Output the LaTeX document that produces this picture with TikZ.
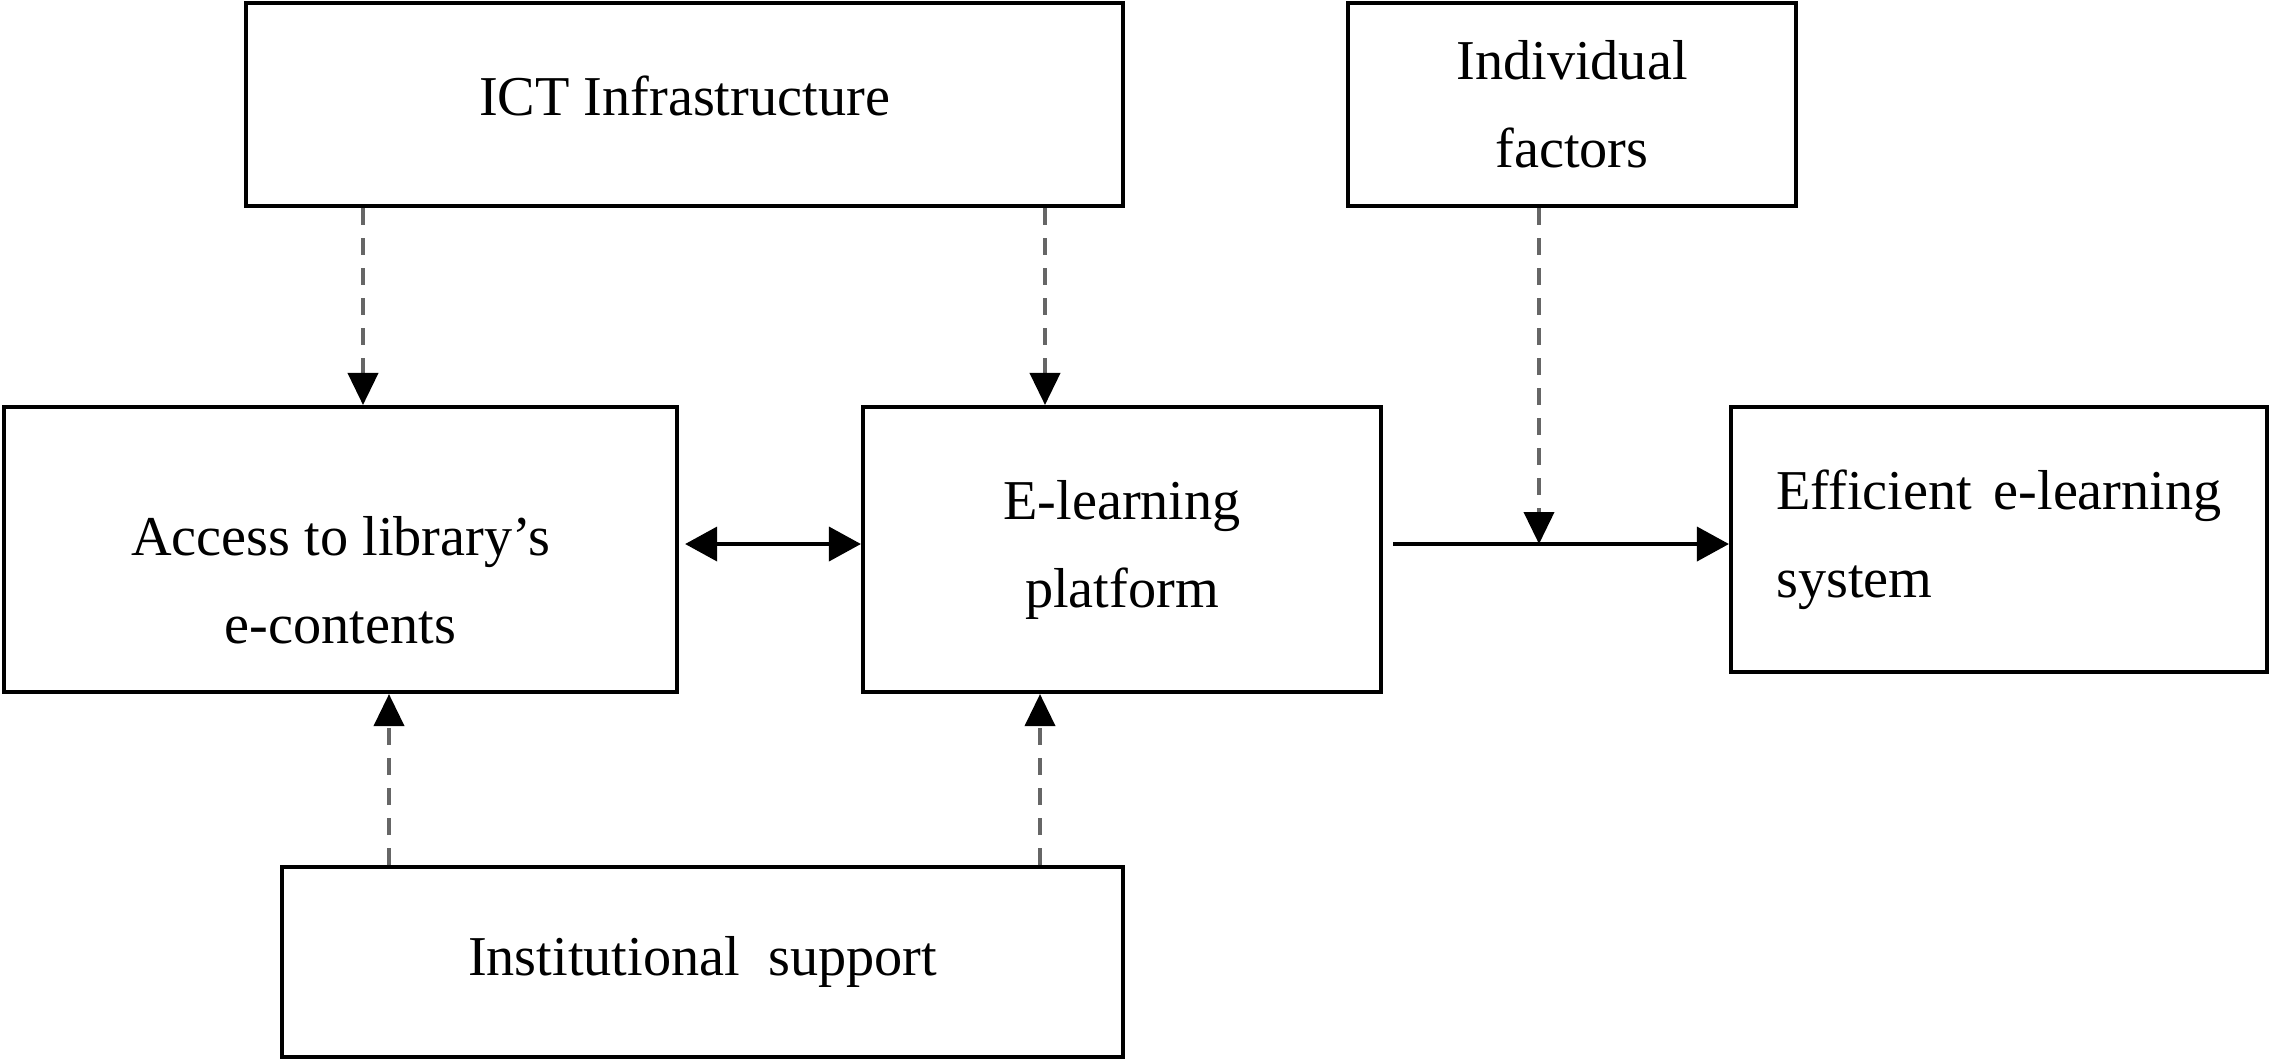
\documentclass[tikz,border=0pt]{standalone}
\usepackage{fontspec}
\setmainfont{Liberation Serif}
\usetikzlibrary{arrows.meta}

\begin{document}
\begin{tikzpicture}[x=0.01cm, y=-0.01cm,
          every node/.style={align=center, font=\fontsize{16}{25}\selectfont},
          box/.style={draw, line width=1.1pt, inner sep=0pt},
          dashlink/.style={draw=black!60, line width=1.1pt, dash pattern=on 0.17cm off 0.13cm,
                           -{Triangle[length=0.32cm, width=0.3cm, color=black]}},
          solidlink/.style={line width=1.1pt, -{Triangle[length=0.32cm, width=0.34cm]}}]
            \useasboundingbox (0,0) rectangle (2270,1059);
            % Top row
            \node[box, minimum width=8.77cm, minimum height=2.03cm] (ict) at (684.5,104.5) {\rule[-0.18cm]{0pt}{0pt}ICT Infrastructure};
            \node[box, minimum width=4.48cm, minimum height=2.03cm] (indiv) at (1572,104.5) {Individual\\factors};
            % Middle row
            \node[box, minimum width=6.73cm, minimum height=2.85cm] (access) at (340.5,549.5) {\rule{0pt}{1cm}Access to library’s\\e-contents};
            \node[box, minimum width=5.18cm, minimum height=2.85cm] (elearn) at (1122,549.5) {E-learning\\platform};
            \node[box, minimum width=5.36cm, minimum height=2.65cm, text width=4.45cm, align=left] (effic) at (1999,539.5) {Efficient\hfill e-learning\\system};
            % Bottom row
            \node[box, minimum width=8.41cm, minimum height=1.90cm] (inst) at (702.5,962) {Institutional~~support};
            % Links
            \coordinate (join) at (1539,544);
            \draw[dashlink] (363,0 |- ict.south) -- (363,0 |- access.north);
            \draw[dashlink] (1045,0 |- ict.south) -- (1045,0 |- elearn.north);
            \draw[dashlink] (389,0 |- inst.north) -- (389,0 |- access.south);
            \draw[dashlink] (1040,0 |- inst.north) -- (1040,0 |- elearn.south);
            \draw[dashlink] (indiv.south -| join) -- (join);
            \draw[solidlink, {Triangle[length=0.32cm, width=0.34cm]}-{Triangle[length=0.32cm, width=0.34cm]}, shorten <=0.06cm] (access.east |- join) -- (elearn.west |- join);
            \draw[solidlink, shorten <=0.1cm] (elearn.east |- join) -- (effic.west |- join);
        \end{tikzpicture}
\end{document}
